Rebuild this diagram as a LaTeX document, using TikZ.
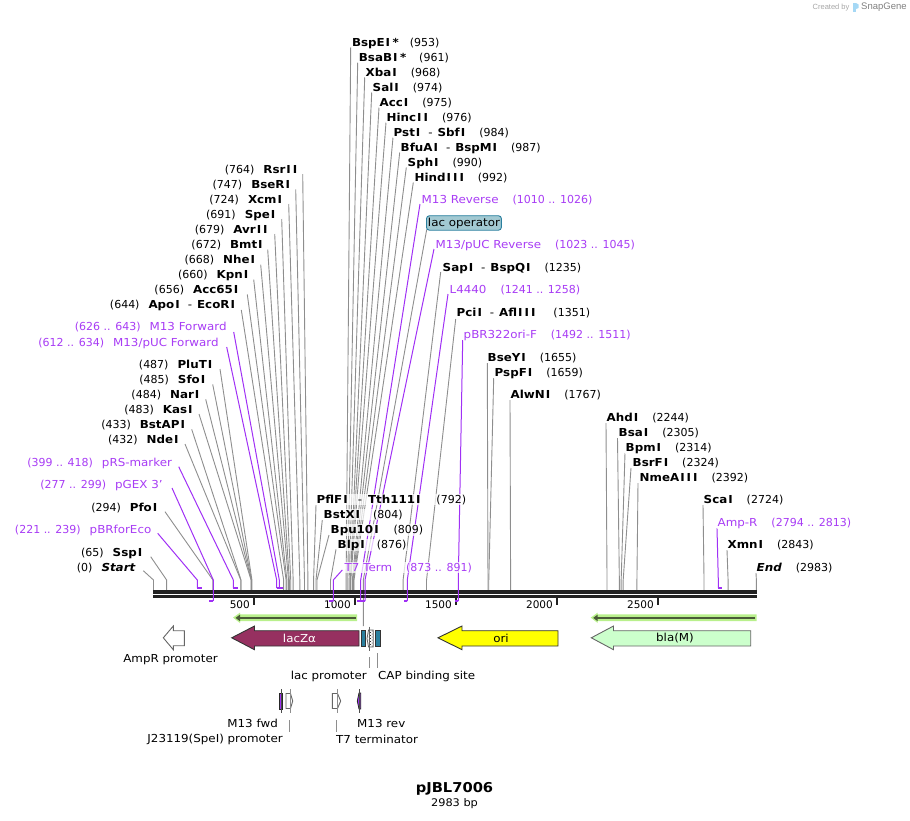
\documentclass[tikz,border=0pt]{standalone}
\usepackage{fontspec}
\setmainfont[FakeStretch=1.08]{DejaVu Sans}
\newfontfamily\numfont{DejaVu Sans}
\newfontfamily\tickfont{DejaVu Sans}
\newfontfamily\logofont{Liberation Sans}
\usetikzlibrary{patterns}
\pgfdeclarelayer{cutlayer}\pgfdeclarelayer{axislayer}\pgfdeclarelayer{primlayer}
\pgfsetlayers{cutlayer,axislayer,primlayer,main}
\definecolor{prim}{HTML}{A030F5}
\definecolor{primtxt}{HTML}{A83CF5}
\definecolor{cutgray}{HTML}{8E8E8E}
\definecolor{axisdark}{HTML}{222222}
\definecolor{lacz}{HTML}{963060}
\definecolor{tealbx}{HTML}{2A7F9E}
\definecolor{opbox}{HTML}{A2C9D2}
\definecolor{glow}{HTML}{B9F08C}
\definecolor{glowdark}{HTML}{4A5A38}
\definecolor{blafill}{HTML}{CCFFCC}
\definecolor{orifill}{HTML}{FFFF00}
\definecolor{logoblue}{HTML}{A5D8F5}
% the capital I of the reference's bold face is wider: pad it
\XeTeXcharclass`\I=100
\XeTeXinterchartoks 0 100={\kern1pt}
\XeTeXinterchartoks 100 0={\kern1pt}
\XeTeXinterchartoks 100 100={\kern2pt}
\newcommand\nmm[1]{{\bfseries\XeTeXinterchartokenstate=1 #1}}
\newcommand\nbr[1]{{\numfont #1}}
\newcommand\gpp{\hspace{14pt}}
\newcommand\gpl{\hspace{9pt}}
\newcommand\dsh{\hspace{8pt}-\hspace{5pt}}
\tikzset{
 lab/.style={font=\fontsize{11}{13}\selectfont,inner xsep=0.5pt,inner ysep=1pt,fill=white,fill opacity=.72,text opacity=1},
 cutlab/.style={lab,text=black},
 primlab/.style={lab,text=primtxt},
 cutline/.style={draw=cutgray,line width=.9pt},
 primline/.style={draw=prim,line width=1pt},
 primbar/.style={draw=prim,line width=2pt},
 axisline/.style={draw=axisdark,line width=3.2pt},
 tick/.style={draw=axisdark,line width=1.6pt},
 ticklab/.style={font=\tickfont\fontsize{10.5}{13}\selectfont,inner sep=0pt,anchor=base east},
 featline/.style={draw=cutgray,line width=.9pt},
 featlab/.style={font=\fontsize{11}{13}\selectfont,inner sep=0pt},
 dkbox/.style={draw=black!80,line width=.9pt},
 grbox/.style={draw=black!60,line width=.9pt},
}
% xr or xl, y, text, top x, top y, bp position
\newcommand\cutcon[4]{%
 \pgfmathsetmacro\ex{153.5+0.2021*#4}%
 \coordinate (#1-top) at (#2,#3);
 \coordinate (#1-knee) at (\ex,580);
 \coordinate (#1-end) at (\ex,591);
 \begin{pgfonlayer}{cutlayer}\draw[cutline] (#1-top)--(#1-knee)--(#1-end);\end{pgfonlayer}
}
\newcommand\cutL[7]{\node[cutlab,anchor=base east] (#1) at ({#2},{#3+4}) {#4};\cutcon{#1}{#5}{#6}{#7}}
\newcommand\cutR[7]{\node[cutlab,anchor=base west] (#1) at ({#2},{#3+4}) {#4};\cutcon{#1}{#5}{#6}{#7}}
% top x, top y, stem x, bar end x, bar y
\newcommand\primcon[6]{%
 \coordinate (#1-top) at (#2,#3);
 \coordinate (#1-knee) at (#4,580);
 \coordinate (#1-foot) at (#4,#6);
 \coordinate (#1-bar) at (#5,#6);
 \begin{pgfonlayer}{primlayer}\draw[primline] (#1-top)--(#1-knee)--(#1-foot);\draw[primbar] (#1-foot)--(#1-bar);\end{pgfonlayer}
}
\newcommand\prL[9]{\node[primlab,anchor=base east] (#1) at ({#2},{#3+4}) {#4};\primconB{#1}{#5}{#6}{#7}{#8}{#9}}
\newcommand\prR[9]{\node[primlab,anchor=base west] (#1) at ({#2},{#3+4}) {#4};\primconB{#1}{#5}{#6}{#7}{#8}{#9}}
\let\primconB\primcon
\begin{document}
\begin{tikzpicture}[x=1pt,y=-1pt]
\useasboundingbox (0,0) rectangle (910,820);
% axis
\begin{pgfonlayer}{axislayer}
\coordinate (axL1) at (153,592);\coordinate (axR1) at (757,592);
\coordinate (axL2) at (153,596.7);\coordinate (axR2) at (757,596.7);
\draw[axisline] (axL1)--(axR1);
\draw[axisline] (axL2)--(axR2);
\foreach \x/\t in {254/500,355/1000,456/1500,557/2000,658/2500}{
 \coordinate (tk\t) at (\x,598);\coordinate (tke\t) at (\x,605);
 \draw[tick] (tk\t)--(tke\t);
 \node[ticklab] (tl\t) at ({\x-4},608) {\t};
}
\end{pgfonlayer}
% left-hand enzymes
\cutL{RsrII}{298}{169}{\nbr{(764)}\gpl\nmm{RsrII}}{302.7}{174}{764}
\cutL{BseRI}{290.7}{184}{\nbr{(747)}\gpl\nmm{BseRI}}{295.7}{189.3}{747}
\cutL{XcmI}{282.7}{199}{\nbr{(724)}\gpl\nmm{XcmI}}{288.7}{204}{724}
\cutL{SpeI}{276}{214}{\nbr{(691)}\gpl\nmm{SpeI}}{281.7}{219}{691}
\cutL{AvrII}{268.3}{229}{\nbr{(679)}\gpl\nmm{AvrII}}{274.7}{234}{679}
\cutL{BmtI}{263.3}{244}{\nbr{(672)}\gpl\nmm{BmtI}}{267.7}{249.5}{672}
\cutL{NheI}{255.7}{259}{\nbr{(668)}\gpl\nmm{NheI}}{260.7}{264.7}{668}
\cutL{KpnI}{249}{274}{\nbr{(660)}\gpl\nmm{KpnI}}{253.7}{279.5}{660}
\cutL{AccSF}{239}{289}{\nbr{(656)}\gpl\nmm{Acc65I}}{247.3}{294.5}{656}
\cutL{ApoI}{235.7}{304}{\nbr{(644)}\gpl\nmm{ApoI}\dsh\nmm{EcoRI}}{241.3}{310}{644}
\cutL{PluTI}{213}{364}{\nbr{(487)}\gpl\nmm{PluTI}}{220}{369}{487}
\cutL{SfoI}{206}{379}{\nbr{(485)}\gpl\nmm{SfoI}}{212.7}{384.3}{485}
\cutL{NarI}{200}{394}{\nbr{(484)}\gpl\nmm{NarI}}{205.7}{399.3}{484}
\cutL{KasI}{193.3}{409}{\nbr{(483)}\gpl\nmm{KasI}}{199}{414}{483}
\cutL{BstAPI}{185.7}{424}{\nbr{(433)}\gpl\nmm{BstAPI}}{191.7}{429.3}{433}
\cutL{NdeI}{179.3}{439}{\nbr{(432)}\gpl\nmm{NdeI}}{185}{444}{432}
\cutL{PfoI}{158}{507}{\nbr{(294)}\gpl\nmm{PfoI}}{165}{511.7}{294}
\cutL{SspI}{143}{552}{\nbr{(65)}\gpl\nmm{SspI}}{150.7}{556.7}{65}
\cutL{StartL}{136}{567}{\nbr{(0)}\gpl\nmm{\itshape Start}}{143.3}{570.7}{0}
% left-hand primers
\prL{MFwd}{227.3}{326}{\nbr{(626 .. 643)}\gpl M13 Forward}{233.7}{332}{279.3}{282.5}{588}
\prL{MpFwd}{219.3}{342}{\nbr{(612 .. 634)}\gpl M13/pUC Forward}{226.7}{347}{276.7}{280}{588}
\prL{pRS}{172.7}{462}{\nbr{(399 .. 418)}\gpl pRS-marker}{178.7}{466.7}{233.3}{237.5}{588}
\prL{pGEX}{163.3}{484}{\nbr{(277 .. 299)}\gpl pGEX 3'}{172}{488}{213.3}{209}{600.8}
\prL{pBRf}{152}{529}{\nbr{(221 .. 239)}\gpl pBRforEco}{157.7}{533.3}{197.3}{201.5}{588}
% top enzymes
\cutR{BspEI}{351.3}{42}{\nmm{BspEI\hspace{2.5pt}*}\hspace{11pt}\nbr{(953)}}{350.7}{47.3}{953}
\cutR{BsaBI}{358.2}{57}{\nmm{BsaBI\hspace{2.5pt}*}\hspace{13pt}\nbr{(961)}}{357.7}{62.7}{961}
\cutR{XbaI}{365}{72}{\nmm{XbaI}\gpp\nbr{(968)}}{364.7}{77.3}{968}
\cutR{SalI}{372}{87}{\nmm{SalI}\gpp\nbr{(974)}}{371.7}{92.5}{974}
\cutR{AccI}{379}{102}{\nmm{AccI}\gpp\nbr{(975)}}{379}{107.5}{975}
\cutR{HincII}{386}{117}{\nmm{HincII}\gpp\nbr{(976)}}{386}{122.5}{976}
\cutR{PstI}{393}{132}{\nmm{PstI}\dsh\nmm{SbfI}\gpp\nbr{(984)}}{393}{137.5}{984}
\cutR{BfuAI}{400}{147}{\nmm{BfuAI}\dsh\nmm{BspMI}\gpp\nbr{(987)}}{399.7}{152.5}{987}
\cutR{SphI}{407}{162}{\nmm{SphI}\gpp\nbr{(990)}}{406.3}{167.5}{990}
\cutR{HindIII}{414}{177}{\nmm{HindIII}\gpp\nbr{(992)}}{413.3}{182.5}{992}
\prR{MRev}{421}{199}{M13 Reverse\gpp\nbr{(1010 .. 1026)}}{420}{204}{360.7}{356.7}{601}
\node[font=\fontsize{11}{13}\selectfont,draw=tealbx,fill=opbox,rounded corners=3pt,line width=.9pt,inner xsep=1.5pt,inner ysep=0pt,minimum height=14.5pt,anchor=base west] (lacop) at (426,226) {lac operator};
\coordinate (lacop-top) at (426.7,229.5);
\coordinate (lacop-knee) at (363.3,580);
\coordinate (lacop-end) at (363.3,626);
\begin{pgfonlayer}{cutlayer}\draw[cutline] (lacop-top)--(lacop-knee)--(lacop-end);\end{pgfonlayer}
\prR{MpRev}{435}{244}{M13/pUC Reverse\gpp\nbr{(1023 .. 1045)}}{434}{249}{365}{360}{601}
\cutR{SapI}{442}{267}{\nmm{SapI}\dsh\nmm{BspQI}\gpp\nbr{(1235)}}{440.7}{272}{1235}
\prR{LFF}{449}{289}{L4440\gpp\nbr{(1241 .. 1258)}}{448}{294}{407.3}{404}{601}
\cutR{PciI}{456}{312}{\nmm{PciI}\dsh\nmm{AflIII}\hspace{18pt}\nbr{(1351)}}{455.7}{319}{1351}
\prR{pBRo}{463}{334}{pBR322ori-F\gpp\nbr{(1492 .. 1511)}}{462.7}{340}{458.3}{455}{601}
\cutR{BseYI}{487}{357}{\nmm{BseYI}\gpp\nbr{(1655)}}{487.3}{363}{1655}
\cutR{PspFI}{494}{372}{\nmm{PspFI}\gpp\nbr{(1659)}}{493.7}{378}{1659}
\cutR{AlwNI}{510}{394}{\nmm{AlwNI}\gpp\nbr{(1767)}}{510}{400}{1767}
\cutR{AhdI}{606}{417}{\nmm{AhdI}\gpp\nbr{(2244)}}{606}{423}{2244}
\cutR{BsaI}{618}{432}{\nmm{BsaI}\gpp\nbr{(2305)}}{617.5}{438}{2305}
\cutR{BpmI}{625}{447}{\nmm{BpmI}\gpp\nbr{(2314)}}{625}{453}{2314}
\cutR{BsrFI}{632}{462}{\nmm{BsrFI}\gpp\nbr{(2324)}}{631}{468}{2324}
\cutR{NmeAIII}{639}{477}{\nmm{NmeAIII}\gpp\nbr{(2392)}}{638}{483}{2392}
\cutR{ScaI}{703}{499}{\nmm{ScaI}\gpp\nbr{(2724)}}{703}{505}{2724}
\prR{AmpR}{717}{522}{Amp-R\gpp\nbr{(2794 .. 2813)}}{717}{528}{718.3}{722}{588}
\cutR{XmnI}{727}{544}{\nmm{XmnI}\gpp\nbr{(2843)}}{727}{550}{2843}
\cutR{EndR}{756}{567}{\nmm{\itshape End}\gpp\nbr{(2983)}}{756}{573}{2983}
% lower middle
\cutR{PflFI}{316}{499}{\nmm{PflFI}\hspace{10pt}-\hspace{6pt}\nmm{Tth111I}\hspace{16pt}\nbr{(792)}}{316}{505}{792}
\cutR{BstXI}{323}{514}{\nmm{BstXI}\hspace{13pt}\nbr{(804)}}{322.3}{520}{804}
\cutR{BpuI}{330}{529}{\nmm{Bpu10I}\hspace{15pt}\nbr{(809)}}{329}{535}{809}
\cutR{BlpI}{337}{544}{\nmm{BlpI}\hspace{12pt}\nbr{(876)}}{336}{549.3}{876}
\prR{TSev}{344}{567}{T7 Term\gpp\nbr{(873 .. 891)}}{342.3}{570}{333.3}{329}{601}
% green bands
\foreach \n/\xa/\xb in {bandA/233/357,bandB/590.7/756.7}{
 \fill[glow] (\xa,617.6)--({\xa+7},612.6)--({\xa+7},614.4)--(\xb,614.4)--(\xb,621)--({\xa+7},621)--({\xa+7},623)--cycle;
 \coordinate (\n-s) at ({\xb-1.5},618);
 \coordinate (\n-e) at ({\xa+6},618);
 \draw[glowdark,line width=2pt] (\n-s)--(\n-e);
 \fill[glowdark] ({\xa+2.5},617.9)--({\xa+7},614.6)--({\xa+7},621.2)--cycle;
}
% feature arrows
\draw[grbox,fill=white] (163.3,637.8)--(173.3,626)--(173.3,630.7)--(184.3,630.7)--(184.3,645.7)--(173.3,645.7)--(173.3,649.7)--cycle;
\draw[dkbox,fill=lacz] (231.7,637.8)--(254.5,626)--(254.5,630.7)--(359,630.7)--(359,646)--(254.5,646)--(254.5,649.7)--cycle;
\node[featlab,text=white] (laczt) at (299.5,638) {lacZα};
\draw[dkbox,fill=tealbx] (361.3,630.7) rectangle (365.5,646);
\draw[dkbox,fill=tealbx] (375.3,630.7) rectangle (380.7,646);
\draw[draw=black!60,line width=.8pt,fill=white] (367,638.5)--(368.5,630)--(373.3,630)--(373.3,647)--(368.5,647)--cycle;
\fill[pattern=crosshatch dots,pattern color=black] (368.5,630.5) rectangle (373,646.5);
\coordinate (lp-a) at (369.4,626.5);\coordinate (lp-b) at (369.4,650.5);
\draw[draw=black!60,line width=1pt] (lp-a)--(lp-b);
\draw[dkbox,fill=orifill] (438,637.8)--(462,626)--(462,630.7)--(558,630.7)--(558,646)--(462,646)--(462,649.7)--cycle;
\node[featlab] (orit) at (501,638) {ori};
\draw[grbox,fill=blafill] (591.3,637.8)--(613.5,626)--(613.5,630.7)--(750.7,630.7)--(750.7,646)--(613.5,646)--(613.5,649.7)--cycle;
\node[featlab] (blat) at (675,638) {bla(M)};
\node[featlab] (ampp) at (170.5,660) {AmpR promoter};
\node[featlab,anchor=east] (lacp) at (367,676) {lac promoter};
\node[featlab,anchor=west] (capb) at (378,676) {CAP binding site};
\coordinate (lacp-a) at (369.3,657);\coordinate (lacp-b) at (369.3,668);
\coordinate (capb-a) at (377.3,653);\coordinate (capb-b) at (377.3,668);
\draw[featline] (lacp-a)--(lacp-b);
\draw[featline] (capb-a)--(capb-b);
% lower features
\draw[black!85,line width=.8pt,fill=prim] (279.5,693)--(282.7,693)--(282.7,709)--(279.5,709)--cycle;
\coordinate (mf-a) at (281.3,689);\coordinate (mf-b) at (281.3,713);
\draw[draw=black!70,line width=.9pt] (mf-a)--(mf-b);
\draw[grbox,fill=white] (286,693.5)--(290.5,693.5)--(292.7,701)--(290.5,708.5)--(286,708.5)--cycle;
\coordinate (jp-a) at (290.7,689);\coordinate (jp-b) at (290.7,713);
\draw[featline] (jp-a)--(jp-b);
\coordinate (jl-a) at (289.3,720);\coordinate (jl-b) at (289.3,732);
\draw[featline] (jl-a)--(jl-b);
\draw[grbox,fill=white] (332.3,693.5)--(337.5,693.5)--(340.7,701)--(337.5,708.5)--(332.3,708.5)--cycle;
\coordinate (tt-a) at (337.3,689);\coordinate (tt-b) at (337.3,713);
\draw[featline] (tt-a)--(tt-b);
\coordinate (tl-a) at (336.3,720);\coordinate (tl-b) at (336.3,732);
\draw[featline] (tl-a)--(tl-b);
\draw[black!85,line width=.8pt,fill=prim] (357.3,701)--(359,693)--(360.7,693)--(360.7,709)--(359,709)--cycle;
\coordinate (mr-a) at (359,689);\coordinate (mr-b) at (359,713);
\draw[draw=black!70,line width=.9pt] (mr-a)--(mr-b);
\node[featlab,anchor=east] (mft) at (278,723) {M13 fwd};
\node[featlab,anchor=east] (jt) at (283,739) {J23119(SpeI) promoter};
\node[featlab,anchor=west] (mrt) at (357,723) {M13 rev};
\node[featlab,anchor=west] (ttt) at (336,739) {T7 terminator};
% title
\node[font=\bfseries\fontsize{13.6}{15}\selectfont,inner sep=0pt] (title) at (454.5,789) {pJBL7006};
\node[font=\fontsize{10.5}{12}\selectfont,inner sep=0pt] (sub) at (454.5,804) {2983 bp};
% logo
\node[font=\logofont\fontsize{7.5}{8}\selectfont,text=black!35,inner sep=0pt,anchor=west] (logoa) at (812.5,7.5) {Created by};
\fill[logoblue] (852.5,2.5) rectangle (856,12);
\fill[logoblue] (856,3)--(858.5,4.5)--(858.5,8)--(856,9)--cycle;
\node[font=\logofont\fontsize{9.5}{11}\selectfont,text=black!50,inner sep=0pt,anchor=west] (logob) at (861,7.5) {SnapGene};
\end{tikzpicture}
\end{document}
